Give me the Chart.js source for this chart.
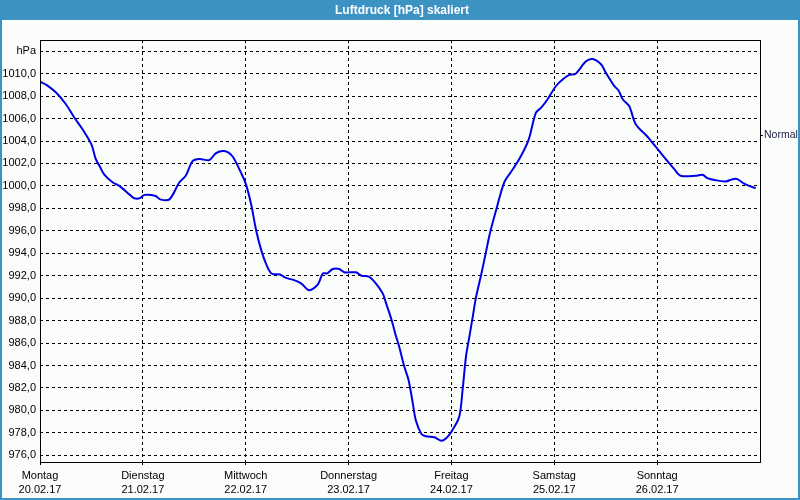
<!DOCTYPE html>
<html>
<head>
<meta charset="utf-8">
<script src="https://cdn.jsdelivr.net/npm/chart.js@4/dist/chart.umd.min.js"></script>
<style>
  body { margin: 0; background: #fff; }
  #frame {
    position: relative;
    width: 800px;
    height: 500px;
    box-sizing: border-box;
    border: 2px solid #3d92c4;
    border-top: none;
    background: #fbfdfb;
    overflow: hidden;
  }
  #chart { position: absolute; left: -2px; top: 0; }
</style>
</head>
<body>
<div id="frame">
  <canvas id="chart" width="800" height="500"></canvas>
</div>
<script>
const chartTitle = 'Luftdruck [hPa] skaliert';

// hours since Monday 20.02.17 00:00
const hours = [0, 1.5, 3.8, 6, 8, 10, 12, 13, 14, 15, 17, 18.5, 21, 22, 23.2, 24.4, 27, 28, 30.2, 32.5,
  34, 35.6, 37.2, 39.5, 41, 42.6, 43.8, 45, 46.5, 48, 49.3, 50.4, 51.6, 52.8, 54, 56, 57.4, 59.3, 61, 62.8,
  64.8, 66, 67, 68.3, 69.8, 71, 73.7, 75, 76.8, 78.4, 80, 80.7, 82, 83, 83.8, 85, 86, 87, 87.7, 89,
  90, 92, 93.6, 94.7, 96, 97.8, 98.6, 99.4, 100.2, 101, 101.7, 103, 104, 105, 106.4, 108.3, 110, 112, 114, 115.7,
  117, 118.4, 120.4, 122, 123.5, 125, 127.4, 129, 131, 132, 134, 135, 136, 137.5, 139, 141.7, 143, 144.5, 146.4, 148,
  149.5, 153, 154.6, 155.7, 157.7, 160, 161.6, 162.7, 164.3, 165.5, 167];

const pressure = [1009.3, 1009.0, 1008.3, 1007.3, 1006.1, 1005.0, 1003.7, 1002.4, 1001.7, 1001.0, 1000.3, 1000.0, 999.2, 998.9, 998.9, 999.2, 999.1, 998.8, 998.8, 1000.3,
  1000.9, 1002.2, 1002.4, 1002.3, 1002.9, 1003.1, 1003.0, 1002.6, 1001.5, 1000.2, 998.3, 996.1, 994.3, 993.0, 992.2, 992.1, 991.8, 991.6, 991.3, 990.7,
  991.2, 992.2, 992.2, 992.6, 992.6, 992.3, 992.3, 992.0, 991.9, 991.3, 990.4, 989.6, 988.1, 986.7, 985.7, 983.9, 982.7, 980.6, 979.1, 977.9,
  977.7, 977.6, 977.3, 977.5, 978.1, 979.4, 981.8, 984.8, 986.6, 988.4, 990.0, 992.2, 994.0, 995.8, 997.8, 1000.3, 1001.3, 1002.5, 1004.1, 1006.5,
  1007.0, 1007.7, 1008.9, 1009.5, 1009.9, 1010.0, 1011.1, 1011.3, 1010.8, 1010.1, 1008.9, 1008.5, 1007.7, 1007.1, 1005.5, 1004.4, 1003.8, 1003.1, 1002.2, 1001.5,
  1000.9, 1000.9, 1001.0, 1000.7, 1000.5, 1000.4, 1000.6, 1000.6, 1000.2, 1000.0, 999.8];

const dayNames = ['Montag', 'Dienstag', 'Mittwoch', 'Donnerstag', 'Freitag', 'Samstag', 'Sonntag'];
const dayDates = ['20.02.17', '21.02.17', '22.02.17', '23.02.17', '24.02.17', '25.02.17', '26.02.17'];
const dayTicks = [0, 24, 48, 72, 96, 120, 144];
const yTicks = [976, 978, 980, 982, 984, 986, 988, 990, 992, 994, 996, 998, 1000, 1002, 1004, 1006, 1008, 1010, 1012];
const normalLevel = 1004.5;

const tickFont = { family: '"Liberation Sans", Arial, sans-serif', size: 11 };

// blue title bar across the top of the window
const titleBar = {
  id: 'titleBar',
  beforeDraw(chart) {
    const ctx = chart.ctx;
    ctx.save();
    ctx.fillStyle = '#3d92c4';
    ctx.fillRect(0, 0, chart.width, 20);
    ctx.fillStyle = '#fff';
    ctx.font = 'bold 12px "Liberation Sans", Arial, sans-serif';
    ctx.textAlign = 'center';
    ctx.textBaseline = 'middle';
    ctx.fillText(chartTitle, chart.width / 2 + 2, 10.5);
    ctx.restore();
  }
};

const frameBorder = {
  id: 'frameBorder',
  afterDraw(chart) {
    const a = chart.chartArea;
    const ctx = chart.ctx;
    ctx.save();
    ctx.strokeStyle = '#000';
    ctx.lineWidth = 1;
    ctx.setLineDash([]);
    ctx.strokeRect(Math.round(a.left) + 0.5, Math.round(a.top) + 0.5,
      Math.round(a.right - a.left), Math.round(a.bottom - a.top));
    ctx.restore();
  }
};

new Chart(document.getElementById('chart'), {
  type: 'line',
  data: {
    datasets: [{
      data: hours.map((h, i) => ({ x: h, y: pressure[i] })),
      borderColor: '#0000e6',
      borderWidth: 2,
      pointRadius: 0,
      tension: 0.3,
      fill: false,
    }],
  },
  options: {
    responsive: false,
    animation: false,
    layout: { padding: { top: 40, left: 0, right: 0, bottom: 0 } },
    plugins: { legend: { display: false }, tooltip: { enabled: false } },
    scales: {
      x: {
        type: 'linear',
        min: 0,
        max: 168,
        afterBuildTicks: (s) => { s.ticks = dayTicks.map((v) => ({ value: v })); },
        afterFit: (s) => { s.height = 38; },
        grid: {
          color: '#000',
          tickLength: 4,
          tickBorderDash: [3, 3],
        },
        border: { display: false, dash: [3, 3] },
        ticks: {
          autoSkip: false,
          maxRotation: 0,
          padding: 2,
          color: '#000',
          font: { ...tickFont, lineHeight: 1.36 },
          callback: (v) => {
            const i = dayTicks.indexOf(v);
            return i >= 0 ? [dayNames[i], dayDates[i]] : '';
          },
        },
      },
      y: {
        position: 'left',
        min: 975.4,
        max: 1013.0,
        afterBuildTicks: (s) => { s.ticks = yTicks.map((v) => ({ value: v })); },
        afterFit: (s) => { s.width = 40; },
        grid: {
          color: '#000',
          drawTicks: false,
        },
        border: { display: false, dash: [3, 3] },
        ticks: {
          padding: 4,
          color: '#000',
          font: tickFont,
          callback: (v) => (v === 1012 ? 'hPa' : v.toFixed(1).replace('.', ',')),
        },
      },
      y2: {
        position: 'right',
        min: 975.4,
        max: 1013.0,
        afterBuildTicks: (s) => { s.ticks = [{ value: normalLevel }]; },
        afterFit: (s) => { s.width = 40; },
        grid: { drawOnChartArea: false, color: '#000', tickLength: 3 },
        border: { display: false },
        ticks: {
          padding: 1,
          color: '#1a1a40',
          font: { ...tickFont, size: 10.5 },
          callback: () => 'Normal',
        },
      },
    },
  },
  plugins: [titleBar, frameBorder],
});
</script>
</body>
</html>
